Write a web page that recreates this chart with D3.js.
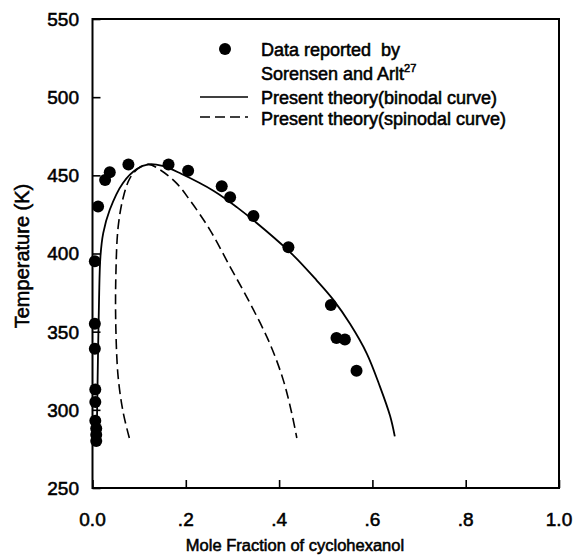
<!DOCTYPE html>
<html>
<head>
<meta charset="utf-8">
<script src="https://cdn.jsdelivr.net/npm/d3@7"></script>
<style>
  html, body { margin: 0; padding: 0; background: #fff; }
  svg { display: block; font-family: "Liberation Sans", Arial, Helvetica, sans-serif; }
  .pre { white-space: pre; }
</style>
</head>
<body>
<svg id="chart" width="575" height="556"></svg>
<script>
// ---- Data ----
const xTickValues = [0, 0.2, 0.4, 0.6, 0.8, 1.0];
const xTickLabels = ["0.0", ".2", ".4", ".6", ".8", "1.0"];
const yTickValues = [250, 300, 350, 400, 450, 500, 550];
const yTickLabels = ["250", "300", "350", "400", "450", "500", "550"];

// experimental data (Sorensen and Arlt)
const dataX = [0.005, 0.005, 0.005, 0.006, 0.006, 0.006, 0.008, 0.008, 0.008, 0.012, 0.027, 0.037, 0.077, 0.163, 0.205, 0.277, 0.295, 0.345, 0.42, 0.511, 0.523, 0.541, 0.566];
const dataT = [395, 355, 339, 313, 305, 293, 288, 284, 280, 430, 447, 452, 457, 457, 453, 443, 436, 424, 404, 367, 346, 345, 325];

// binodal curve
const binodalX = [0.009, 0.011, 0.014, 0.017, 0.023, 0.037, 0.065, 0.095, 0.12, 0.15, 0.19, 0.26, 0.31, 0.37, 0.43, 0.48, 0.516, 0.552, 0.588, 0.616, 0.638, 0.648];
const binodalT = [281, 320, 370, 398, 413, 428, 445, 454, 457, 456, 451, 440, 429.5, 415, 399, 383, 370.5, 355, 336, 315, 296, 283];

// spinodal curve
const spinodalX = [0.079, 0.066, 0.055, 0.05, 0.05, 0.055, 0.066, 0.08, 0.098, 0.12, 0.145, 0.18, 0.209, 0.252, 0.295, 0.338, 0.38, 0.409, 0.427, 0.438];
const spinodalT = [282, 298, 321, 353, 385, 417, 436, 448, 454.5, 457, 453.5, 445, 434, 415, 391.5, 368, 342.5, 319, 298, 282];

const legendLabels = ["Data reported  by", "Sorensen and Arlt", "Present theory(binodal curve)", "Present theory(spinodal curve)"];

// ---- Layout ----
const svg = d3.select("#chart");
const plotL = 92.5, plotR = 559, plotT = 19, plotB = 488;
const x = d3.scaleLinear().domain([0, 1]).range([plotL, plotR]);
const y = d3.scaleLinear().domain([250, 550]).range([plotB, plotT]);

const textStroke = { stroke: "#000", sw: 0.55 };

// Curves
const line = d3.line().x(d => x(d[0])).y(d => y(d[1])).curve(d3.curveCatmullRom.alpha(0.5));
const binodal = binodalX.map((v, i) => [v, binodalT[i]]);
const spinodal = spinodalX.map((v, i) => [v, spinodalT[i]]);

svg.append("path").datum(binodal).attr("d", line)
  .attr("fill", "none").attr("stroke", "#000").attr("stroke-width", 1.8);
svg.append("path").datum(spinodal).attr("d", line)
  .attr("fill", "none").attr("stroke", "#000").attr("stroke-width", 1.6)
  .attr("stroke-dasharray", "10,5");

// Data points
svg.append("g").selectAll("circle")
  .data(dataX.map((v, i) => [v, dataT[i]]))
  .join("circle")
  .attr("cx", d => x(d[0])).attr("cy", d => y(d[1]))
  .attr("r", 6).attr("fill", "#000");

// Axes (inward ticks)
const xAxis = d3.axisBottom(x).tickValues(xTickValues).tickSizeInner(-8).tickSizeOuter(0).tickFormat("");
const yAxis = d3.axisLeft(y).tickValues(yTickValues).tickSizeInner(-8).tickSizeOuter(0).tickFormat("");
const gx = svg.append("g").attr("transform", `translate(0,${plotB})`).call(xAxis);
const gy = svg.append("g").attr("transform", `translate(${plotL},0)`).call(yAxis);
[gx, gy].forEach(g => {
  g.select(".domain").remove();
  g.selectAll(".tick line").attr("stroke", "#000").attr("stroke-width", 1.6);
});

// Frame
svg.append("rect").attr("x", plotL).attr("y", plotT)
  .attr("width", plotR - plotL).attr("height", plotB - plotT)
  .attr("fill", "none").attr("stroke", "#000").attr("stroke-width", 2);

// Tick labels
svg.append("g").selectAll("text")
  .data(xTickValues)
  .join("text")
  .attr("x", d => x(d)).attr("y", 526)
  .attr("text-anchor", "middle").attr("font-size", 19)
  .attr("stroke", textStroke.stroke).attr("stroke-width", textStroke.sw)
  .text((d, i) => xTickLabels[i]);

svg.append("g").selectAll("text")
  .data(yTickValues)
  .join("text")
  .attr("x", 79).attr("y", d => y(d))
  .attr("dy", "0.36em")
  .attr("text-anchor", "end").attr("font-size", 19)
  .attr("stroke", textStroke.stroke).attr("stroke-width", textStroke.sw)
  .text((d, i) => yTickLabels[i]);

// Axis titles
svg.append("text")
  .attr("x", 295).attr("y", 551)
  .attr("text-anchor", "middle").attr("font-size", 16.5)
  .attr("stroke", textStroke.stroke).attr("stroke-width", textStroke.sw)
  .text("Mole Fraction of cyclohexanol");

svg.append("text")
  .attr("transform", "translate(29,256) rotate(-90)")
  .attr("text-anchor", "middle").attr("font-size", 20)
  .attr("stroke", textStroke.stroke).attr("stroke-width", textStroke.sw)
  .text("Temperature (K)");

// Legend
const lg = svg.append("g");
lg.append("circle").attr("cx", 225).attr("cy", 49).attr("r", 6).attr("fill", "#000");
const lgText = (t, yy) => lg.append("text").attr("class", "pre").attr("x", 261).attr("y", yy)
  .attr("font-size", 18)
  .attr("stroke", textStroke.stroke).attr("stroke-width", textStroke.sw)
  .text(t);
lgText(legendLabels[0], 56);
const t2 = lgText(legendLabels[1], 80);
t2.append("tspan").attr("font-size", 11).attr("dy", -8).text("27");
lgText(legendLabels[2], 104);
lgText(legendLabels[3], 125);
lg.append("line").attr("x1", 200).attr("x2", 248).attr("y1", 97).attr("y2", 97)
  .attr("stroke", "#000").attr("stroke-width", 1.5);
lg.append("line").attr("x1", 200).attr("x2", 248).attr("y1", 117).attr("y2", 117)
  .attr("stroke", "#000").attr("stroke-width", 1.5).attr("stroke-dasharray", "10,5");
</script>
</body>
</html>
